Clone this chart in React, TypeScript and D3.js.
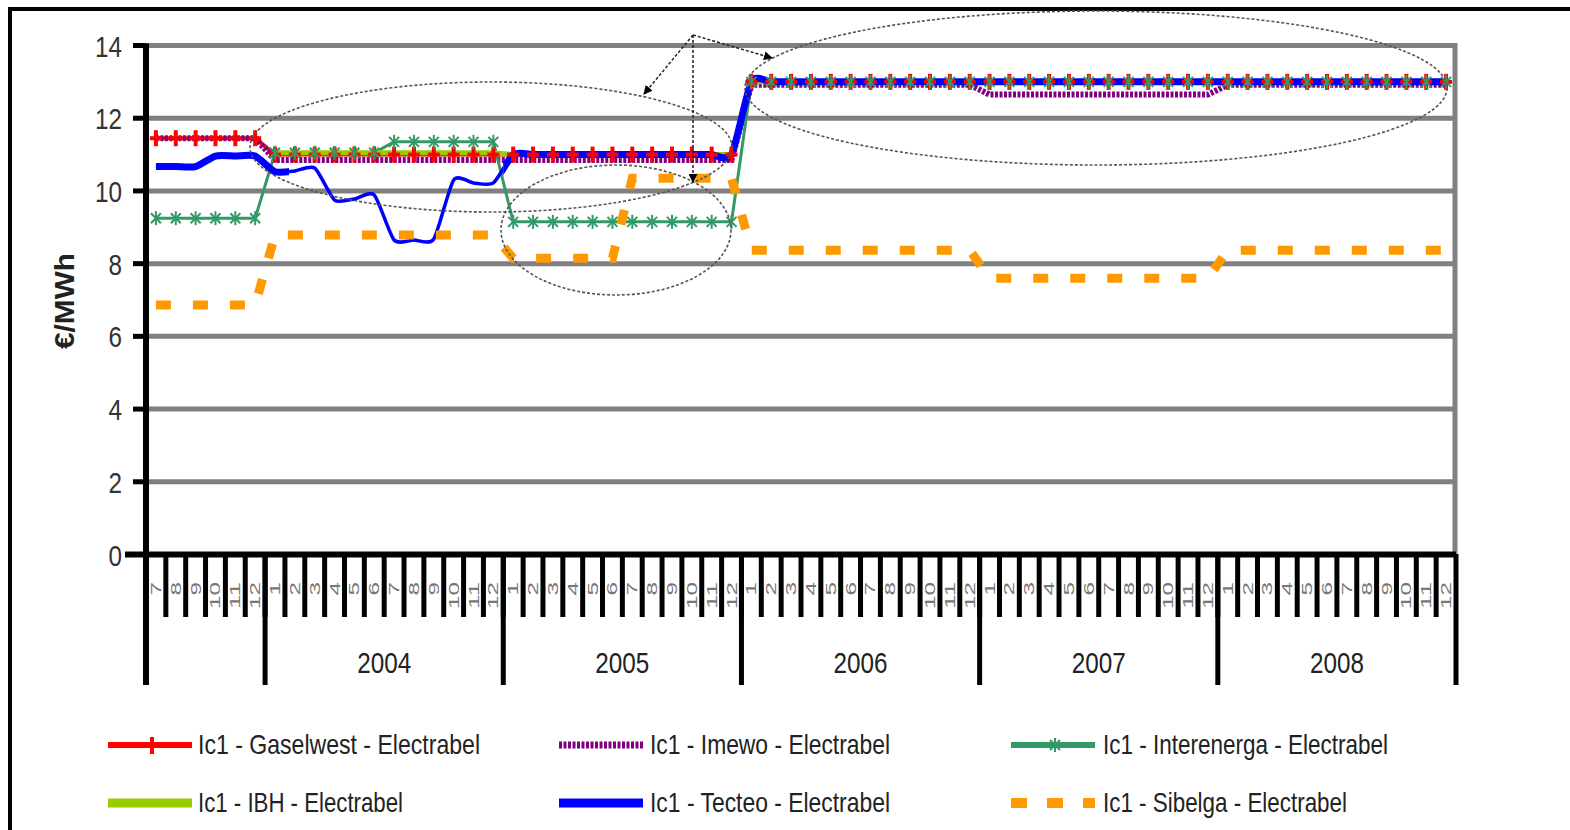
import React from "react";
import * as d3 from "d3";

const W = 1570;
const H = 830;

const months = [
  "7", "8", "9", "10", "11", "12",
  "1", "2", "3", "4", "5", "6", "7", "8", "9", "10", "11", "12",
  "1", "2", "3", "4", "5", "6", "7", "8", "9", "10", "11", "12",
  "1", "2", "3", "4", "5", "6", "7", "8", "9", "10", "11", "12",
  "1", "2", "3", "4", "5", "6", "7", "8", "9", "10", "11", "12",
  "1", "2", "3", "4", "5", "6", "7", "8", "9", "10", "11", "12",
];
const years = ["", "2004", "2005", "2006", "2007", "2008"];
const yearMonthCounts = [6, 12, 12, 12, 12, 12];
const yTicks = [0, 2, 4, 6, 8, 10, 12, 14];

const gaselwest = [
  11.45, 11.45, 11.45, 11.45, 11.45, 11.45,
  11.0, 11.0, 11.0, 11.0, 11.0, 11.0, 11.0, 11.0, 11.0, 11.0, 11.0, 11.0,
  11.0, 11.0, 11.0, 11.0, 11.0, 11.0, 11.0, 11.0, 11.0, 11.0, 11.0, 11.0,
  13.0, 13.0, 13.0, 13.0, 13.0, 13.0, 13.0, 13.0, 13.0, 13.0, 13.0, 13.0,
  13.0, 13.0, 13.0, 13.0, 13.0, 13.0, 13.0, 13.0, 13.0, 13.0, 13.0, 13.0,
  13.0, 13.0, 13.0, 13.0, 13.0, 13.0, 13.0, 13.0, 13.0, 13.0, 13.0, 13.0,
];
const imewo = [
  11.45, 11.45, 11.45, 11.45, 11.45, 11.45,
  10.85, 10.85, 10.85, 10.85, 10.85, 10.85, 10.85, 10.85, 10.85, 10.85, 10.85, 10.85,
  10.85, 10.85, 10.85, 10.85, 10.85, 10.85, 10.85, 10.85, 10.85, 10.85, 10.85, 10.85,
  12.92, 12.92, 12.92, 12.92, 12.92, 12.92, 12.92, 12.92, 12.92, 12.92, 12.92, 12.92,
  12.65, 12.65, 12.65, 12.65, 12.65, 12.65, 12.65, 12.65, 12.65, 12.65, 12.65, 12.65,
  12.92, 12.92, 12.92, 12.92, 12.92, 12.92, 12.92, 12.92, 12.92, 12.92, 12.92, 12.92,
];
const interenerga = [
  9.25, 9.25, 9.25, 9.25, 9.25, 9.25,
  11.05, 11.05, 11.05, 11.05, 11.05, 11.05, 11.35, 11.35, 11.35, 11.35, 11.35, 11.35,
  9.15, 9.15, 9.15, 9.15, 9.15, 9.15, 9.15, 9.15, 9.15, 9.15, 9.15, 9.15,
  13.0, 13.0, 13.0, 13.0, 13.0, 13.0, 13.0, 13.0, 13.0, 13.0, 13.0, 13.0,
  13.0, 13.0, 13.0, 13.0, 13.0, 13.0, 13.0, 13.0, 13.0, 13.0, 13.0, 13.0,
  13.0, 13.0, 13.0, 13.0, 13.0, 13.0, 13.0, 13.0, 13.0, 13.0, 13.0, 13.0,
];
const ibh = [
  null, null, null, null, null, null,
  11.05, 11.05, 11.05, 11.05, 11.05, 11.05, 11.05, 11.05, 11.05, 11.05, 11.05, 11.05,
  11.0, 11.0, 11.0, 11.0, 11.0, 11.0, 11.0, 11.0, 11.0, 11.0, 11.0, 11.0,
  13.0, 13.0, 13.0, 13.0, 13.0, 13.0, 13.0, 13.0, 13.0, 13.0, 13.0, 13.0,
  13.0, 13.0, 13.0, 13.0, 13.0, 13.0, 13.0, 13.0, 13.0, 13.0, 13.0, 13.0,
  13.0, 13.0, 13.0, 13.0, 13.0, 13.0, 13.0, 13.0, 13.0, 13.0, 13.0, 13.0,
];
const tecteo = [
  10.67, 10.67, 10.67, 10.96, 10.96, 10.96,
  10.53, 10.55, 10.63, 9.75, 9.78, 9.89, 8.65, 8.65, 8.68, 10.3, 10.22, 10.22,
  11.0, 11.0, 11.0, 11.0, 11.0, 11.0, 11.0, 11.0, 11.0, 11.0, 11.0, 11.0,
  13.0, 13.0, 13.0, 13.0, 13.0, 13.0, 13.0, 13.0, 13.0, 13.0, 13.0, 13.0,
  13.0, 13.0, 13.0, 13.0, 13.0, 13.0, 13.0, 13.0, 13.0, 13.0, 13.0, 13.0,
  13.0, 13.0, 13.0, 13.0, 13.0, 13.0, 13.0, 13.0, 13.0, 13.0, 13.0, 13.0,
];
const sibelga = [
  6.86, 6.86, 6.86, 6.86, 6.86, 6.86,
  8.79, 8.79, 8.79, 8.79, 8.79, 8.79, 8.79, 8.79, 8.79, 8.79, 8.79, 8.79,
  8.15, 8.15, 8.15, 8.15, 8.15, 8.15, 10.35, 10.35, 10.35, 10.35, 10.35, 10.35,
  8.37, 8.37, 8.37, 8.37, 8.37, 8.37, 8.37, 8.37, 8.37, 8.37, 8.37, 8.37,
  7.6, 7.6, 7.6, 7.6, 7.6, 7.6, 7.6, 7.6, 7.6, 7.6, 7.6, 7.6,
  8.37, 8.37, 8.37, 8.37, 8.37, 8.37, 8.37, 8.37, 8.37, 8.37, 8.37, 8.37,
];

const seriesNames = [
  "Ic1 - Gaselwest - Electrabel",
  "Ic1 - Imewo - Electrabel",
  "Ic1 - Interenerga - Electrabel",
  "Ic1 - IBH - Electrabel",
  "Ic1 - Tecteo - Electrabel",
  "Ic1 - Sibelga - Electrabel",
];

const FONT = "'Liberation Sans', Arial, sans-serif";
const RED = "#ff0000";
const PURPLE = "#800080";
const GREEN = "#339966";
const YGREEN = "#99cc00";
const BLUE = "#0000ff";
const ORANGE = "#ff9900";

export default function App() {
  const x = d3
    .scaleBand<string>()
    .domain(months.map((_, i) => String(i)))
    .range([146, 1456])
    .padding(0);
  const bw = x.bandwidth();
  const cx = (i: number) => (x(String(i)) as number) + bw / 2;
  const y = d3.scaleLinear().domain([0, 14]).range([554.5, 45.5]);
  const x0 = 146;
  const x1 = 1456;

  const line = d3
    .line<number | null>()
    .defined((v) => v != null)
    .x((_, i) => cx(i))
    .y((v) => y(v as number));
  const smooth = d3
    .line<number>()
    .x((_, i) => cx(i))
    .y((v) => y(v))
    .curve(d3.curveCardinal.tension(0.35));

  const bounds: number[] = [];
  let acc = 0;
  bounds.push(0);
  yearMonthCounts.forEach((c) => {
    acc += c;
    bounds.push(acc);
  });
  const bx = (k: number) => (k >= months.length ? x1 : (x(String(k)) as number));

  const plus = (px: number, py: number, k: string) => (
    <g key={k}>
      <line x1={px - 6} x2={px + 6} y1={py} y2={py} stroke={RED} strokeWidth={4} />
      <line x1={px} x2={px} y1={py - 8} y2={py + 8} stroke={RED} strokeWidth={4} />
    </g>
  );
  const star = (px: number, py: number, k: string) => (
    <g key={k} stroke={GREEN} strokeWidth={2}>
      <line x1={px} x2={px} y1={py - 7} y2={py + 7} />
      <line x1={px - 5} x2={px + 5} y1={py - 5} y2={py + 5} />
      <line x1={px - 5} x2={px + 5} y1={py + 5} y2={py - 5} />
    </g>
  );

  const legendCols = [108, 559, 1011];
  const legendTextX = [198, 650, 1103];
  const legendRows = [745, 803];
  const legendTextW = [282, 240, 285, 205, 240, 244];

  const legendSample = (idx: number, lx: number, ly: number) => {
    const len = 84;
    switch (idx) {
      case 0:
        return (
          <g>
            <line x1={lx} x2={lx + len} y1={ly} y2={ly} stroke={RED} strokeWidth={6} />
            <line x1={lx + 44} x2={lx + 44} y1={ly - 8} y2={ly + 9} stroke={RED} strokeWidth={4} />
          </g>
        );
      case 1:
        return <line x1={lx} x2={lx + len} y1={ly} y2={ly} stroke={PURPLE} strokeWidth={7} strokeDasharray="3,1.5" />;
      case 2:
        return (
          <g>
            <line x1={lx} x2={lx + len} y1={ly} y2={ly} stroke={GREEN} strokeWidth={6} />
            {star(lx + 44, ly, "ls")}
          </g>
        );
      case 3:
        return <line x1={lx} x2={lx + len} y1={ly} y2={ly} stroke={YGREEN} strokeWidth={9} />;
      case 4:
        return <line x1={lx} x2={lx + len} y1={ly} y2={ly} stroke={BLUE} strokeWidth={9} />;
      default:
        return <line x1={lx} x2={lx + len} y1={ly} y2={ly} stroke={ORANGE} strokeWidth={10} strokeDasharray="16,20" />;
    }
  };

  const thinX0 = cx(6) + 14;
  const thinX1 = cx(18) - 10;
  const tecteoPath = smooth(tecteo) as string;

  return (
    <svg
      width={W}
      height={H}
      style={{ position: "absolute", left: 0, top: 0, display: "block", background: "#fff" }}
      fontFamily={FONT}
    >
      <defs>
        <marker id="arr" viewBox="0 0 10 10" refX="9" refY="5" markerWidth="9" markerHeight="9" orient="auto-start-reverse" markerUnits="userSpaceOnUse">
          <path d="M0,0 L10,5 L0,10 z" fill="#000" />
        </marker>
        <clipPath id="thinClip">
          <rect x={thinX0} y={0} width={thinX1 - thinX0} height={H} />
        </clipPath>
        <clipPath id="thickClip">
          <path d={`M0,0 H${thinX0} V${H} H0 Z M${thinX1},0 H${W} V${H} H${thinX1} Z`} />
        </clipPath>
      </defs>
      <rect x={0} y={0} width={W} height={H} fill="#fff" />
      <path d={`M ${W} 9 H 10 V ${H}`} fill="none" stroke="#000" strokeWidth={4} />

      {yTicks.filter((t) => t > 0).map((t) => (
        <line key={"g" + t} x1={x0} x2={x1} y1={y(t)} y2={y(t)} stroke="#808080" strokeWidth={5} />
      ))}
      <line x1={x1 - 1} x2={x1 - 1} y1={y(14) - 2.5} y2={y(0)} stroke="#808080" strokeWidth={5} />

      {yTicks.map((t) => (
        <g key={"yt" + t}>
          <line x1={133} x2={x0} y1={y(t)} y2={y(t)} stroke="#000" strokeWidth={5} />
          <text
            x={122}
            y={y(t) + 11}
            fontSize={30}
            textAnchor="end"
            fill="#333"
            textLength={13.5 * String(t).length}
            lengthAdjust="spacingAndGlyphs"
          >
            {t}
          </text>
        </g>
      ))}
      <text
        transform={`translate(74, 301) rotate(-90)`}
        fontSize={27}
        fontWeight="bold"
        textAnchor="middle"
        fill="#222"
        textLength={96}
        lengthAdjust="spacingAndGlyphs"
      >
        €/MWh
      </text>

      {months.map((_, i) =>
        i === 0 ? null : (
          <line key={"mt" + i} x1={bx(i)} x2={bx(i)} y1={554} y2={617} stroke="#000" strokeWidth={5} />
        )
      )}
      {bounds.map((b, k) => (
        <line key={"yb" + k} x1={bx(b)} x2={bx(b)} y1={554} y2={685} stroke="#000" strokeWidth={5} />
      ))}
      {months.map((m, i) => (
        <text
          key={"ml" + i}
          transform={`translate(${cx(i) + 5}, 582) rotate(-90)`}
          fontSize={14}
          textAnchor="end"
          fill="#777"
          textLength={13.5 * m.length}
          lengthAdjust="spacingAndGlyphs"
        >
          {m}
        </text>
      ))}
      {years.map((yr, k) =>
        yr ? (
          <text
            key={"yl" + k}
            x={(bx(bounds[k]) + bx(bounds[k + 1])) / 2}
            y={673}
            fontSize={30}
            textAnchor="middle"
            fill="#222"
            textLength={54}
            lengthAdjust="spacingAndGlyphs"
          >
            {yr}
          </text>
        ) : null
      )}
      <line x1={125} x2={x1} y1={y(0)} y2={y(0)} stroke="#000" strokeWidth={6} />
      <line x1={x0} x2={x0} y1={y(14) - 2} y2={685} stroke="#000" strokeWidth={6} />

      <path d={line(gaselwest) as string} fill="none" stroke={RED} strokeWidth={4} />
      <path d={line(imewo) as string} fill="none" stroke={PURPLE} strokeWidth={6} strokeDasharray="3,1.5" />
      <path d={line(interenerga) as string} fill="none" stroke={GREEN} strokeWidth={3} />
      <path d={line(ibh) as string} fill="none" stroke={YGREEN} strokeWidth={5} />
      <path d={tecteoPath} fill="none" stroke={BLUE} strokeWidth={7} clipPath="url(#thickClip)" />
      <path d={tecteoPath} fill="none" stroke={BLUE} strokeWidth={3.5} clipPath="url(#thinClip)" />
      <path d={line(sibelga) as string} fill="none" stroke={ORANGE} strokeWidth={9} strokeDasharray="15,22" />

      {gaselwest.map((v, i) => plus(cx(i), y(v), "p" + i))}
      {interenerga.map((v, i) => star(cx(i), y(v), "s" + i))}

      <g fill="none" stroke="#555" strokeWidth={1.6} strokeDasharray="3,2">
        <ellipse cx={491} cy={147} rx={241} ry={65} />
        <ellipse cx={616} cy={230} rx={115} ry={65} />
        <ellipse cx={1096} cy={88} rx={351} ry={77} />
      </g>
      <g stroke="#222" strokeWidth={1.5} strokeDasharray="3,2" fill="none">
        <line x1={693} y1={35} x2={644} y2={94} markerEnd="url(#arr)" />
        <line x1={693} y1={35} x2={693} y2={182} markerEnd="url(#arr)" />
        <line x1={693} y1={35} x2={772} y2={58} markerEnd="url(#arr)" />
      </g>

      {seriesNames.map((name, idx) => {
        const col = idx % 3;
        const row = Math.floor(idx / 3);
        const ly = legendRows[row];
        return (
          <g key={"lg" + idx}>
            {legendSample(idx, legendCols[col], ly)}
            <text
              x={legendTextX[col]}
              y={ly + 9}
              fontSize={28}
              fill="#222"
              textLength={legendTextW[idx]}
              lengthAdjust="spacingAndGlyphs"
            >
              {name}
            </text>
          </g>
        );
      })}
    </svg>
  );
}
